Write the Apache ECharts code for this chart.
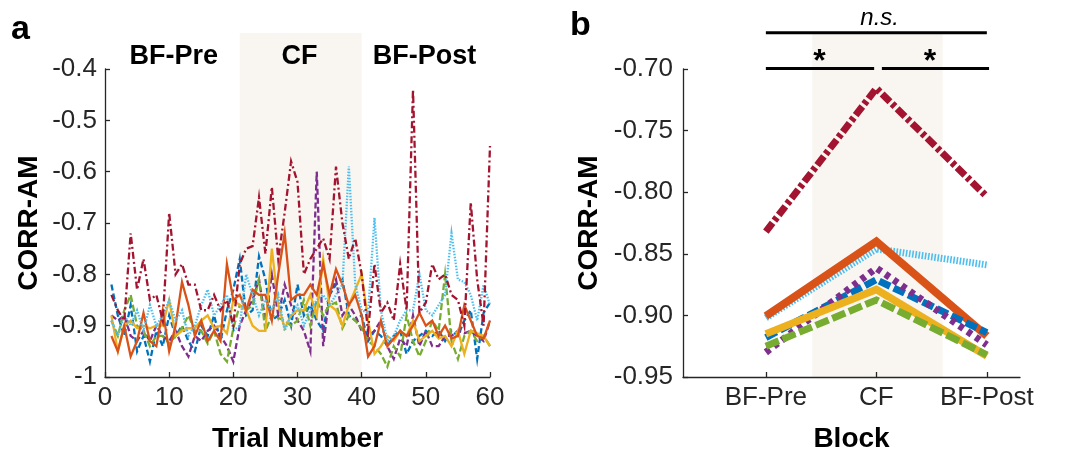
<!DOCTYPE html>
<html><head><meta charset="utf-8">
<script src="https://cdn.jsdelivr.net/npm/echarts@6/dist/echarts.min.js"></script>
<style>html,body{margin:0;padding:0;background:#fff}#c{width:1072px;height:452px}</style>
</head><body><div id="c"></div>
<script>
// ---------- Panel a: per-trial CORR-AM (trials 1..60) ----------
const trials = Array.from({length: 60}, (_, i) => i + 1);
const aBlue = [-0.82,-0.88,-0.92,-0.86,-0.95,-0.92,-0.97,-0.91,-0.94,-0.88,-0.92,-0.90,-0.93,-0.95,-0.90,-0.92,-0.88,-0.93,-0.87,-0.83,
  -0.77,-0.88,-0.87,-0.765,-0.81,-0.89,-0.88,-0.85,-0.90,-0.82,-0.88,-0.86,-0.89,-0.91,-0.84,-0.82,-0.81,-0.88,-0.89,-0.88,
  -0.93,-0.91,-0.92,-0.94,-0.92,-0.91,-0.955,-0.93,-0.92,-0.91,-0.92,-0.91,-0.93,-0.91,-0.92,-0.89,-0.87,-0.965,-0.875,-0.855];
const aOrange = [-0.92,-0.95,-0.90,-0.96,-0.93,-0.875,-0.93,-0.94,-0.87,-0.95,-0.90,-0.815,-0.86,-0.92,-0.89,-0.93,-0.91,-0.93,-0.78,-0.85,
  -0.84,-0.87,-0.83,-0.84,-0.84,-0.89,-0.80,-0.72,-0.85,-0.84,-0.84,-0.82,-0.84,-0.78,-0.84,-0.79,-0.82,-0.86,-0.84,-0.88,
  -0.96,-0.94,-0.89,-0.94,-0.925,-0.91,-0.92,-0.90,-0.875,-0.90,-0.89,-0.92,-0.90,-0.925,-0.92,-0.86,-0.89,-0.92,-0.925,-0.89];
const aYellow = [-0.88,-0.95,-0.90,-0.89,-0.905,-0.90,-0.905,-0.90,-0.90,-0.85,-0.92,-0.91,-0.905,-0.905,-0.89,-0.88,-0.905,-0.90,-0.915,-0.85,
  -0.86,-0.87,-0.90,-0.91,-0.91,-0.75,-0.86,-0.905,-0.88,-0.87,-0.87,-0.84,-0.88,-0.77,-0.86,-0.87,-0.90,-0.86,-0.83,-0.80,
  -0.89,-0.955,-0.94,-0.92,-0.93,-0.91,-0.92,-0.89,-0.93,-0.92,-0.91,-0.925,-0.92,-0.94,-0.91,-0.955,-0.91,-0.915,-0.92,-0.94];
const aPurple = [-0.88,-0.89,-0.88,-0.92,-0.93,-0.91,-0.93,-0.90,-0.92,-0.93,-0.91,-0.94,-0.96,-0.92,-0.93,-0.91,-0.90,-0.92,-0.94,-0.97,
  -0.90,-0.87,-0.85,-0.81,-0.89,-0.80,-0.88,-0.82,-0.86,-0.89,-0.91,-0.95,-0.60,-0.94,-0.84,-0.81,-0.88,-0.86,-0.88,-0.91,
  -0.92,-0.91,-0.89,-0.94,-0.965,-0.925,-0.94,-0.88,-0.94,-0.91,-0.94,-0.94,-0.92,-0.92,-0.91,-0.915,-0.91,-0.92,-0.93,-0.89];
const aGreen = [-0.89,-0.92,-0.87,-0.84,-0.90,-0.91,-0.94,-0.92,-0.92,-0.935,-0.92,-0.905,-0.88,-0.91,-0.91,-0.935,-0.91,-0.955,-0.97,-0.905,
  -0.86,-0.87,-0.86,-0.81,-0.91,-0.88,-0.885,-0.89,-0.90,-0.89,-0.85,-0.90,-0.85,-0.88,-0.86,-0.855,-0.905,-0.88,-0.89,-0.905,
  -0.93,-0.94,-0.955,-0.98,-0.94,-0.96,-0.88,-0.93,-0.96,-0.93,-0.89,-0.91,-0.80,-0.93,-0.965,-0.92,-0.91,-0.93,-0.92,-0.94];
const aLightBlue = [-0.89,-0.92,-0.88,-0.90,-0.87,-0.91,-0.86,-0.90,-0.88,-0.85,-0.89,-0.87,-0.92,-0.90,-0.86,-0.83,-0.88,-0.86,-0.84,-0.91,
  -0.90,-0.80,-0.84,-0.88,-0.85,-0.87,-0.84,-0.91,-0.88,-0.86,-0.90,-0.87,-0.85,-0.84,-0.86,-0.84,-0.82,-0.59,-0.82,-0.87,
  -0.875,-0.69,-0.87,-0.93,-0.92,-0.89,-0.87,-0.87,-0.80,-0.87,-0.88,-0.86,-0.84,-0.72,-0.81,-0.815,-0.84,-0.89,-0.82,-0.86];
const aDarkRed = [-0.84,-0.87,-0.89,-0.72,-0.83,-0.77,-0.85,-0.84,-0.89,-0.68,-0.80,-0.78,-0.82,-0.82,-0.87,-0.87,-0.84,-0.87,-0.85,-0.90,
  -0.78,-0.75,-0.745,-0.65,-0.76,-0.63,-0.77,-0.68,-0.58,-0.62,-0.80,-0.77,-0.75,-0.73,-0.77,-0.59,-0.70,-0.77,-0.73,-0.80,
  -0.91,-0.78,-0.875,-0.855,-0.89,-0.78,-0.87,-0.44,-0.875,-0.855,-0.78,-0.81,-0.80,-0.84,-0.85,-0.90,-0.66,-0.81,-0.90,-0.55];
const aYTicks = [-1, -0.9, -0.8, -0.7, -0.6, -0.5, -0.4];
const aXTicks = [0, 10, 20, 30, 40, 50, 60];

// ---------- Panel b: block means ----------
const blocks = ['BF-Pre', 'CF', 'BF-Post'];
const bBlue = [-0.918, -0.871, -0.914];
const bOrange = [-0.9005, -0.840, -0.9167];
const bYellow = [-0.915, -0.879, -0.933];
const bPurple = [-0.930, -0.8615, -0.924];
const bGreen = [-0.925, -0.8875, -0.932];
const bLightBlue = [-0.902, -0.846, -0.859];
const bDarkRed = [-0.832, -0.7157, -0.8036];
const bYTicks = [-0.95, -0.90, -0.85, -0.80, -0.75, -0.70];

const C = {blue:'#0072BD', orange:'#D95319', yellow:'#EDB120', purple:'#7E2F8E', green:'#77AC30', lightBlue:'#4DBEEE', darkRed:'#A2142F'};
const FONT = '"Liberation Sans", Arial, Helvetica, sans-serif';
const AX = '#262626';

const chart = echarts.init(document.getElementById('c'), null, {renderer: 'canvas'});

function pairs(xs, ys){ return ys.map((y, i) => [xs[i], y]); }

const aStyles = [
  ['blue', aBlue, [6,3]],
  ['purple', aPurple, [6,3]],
  ['green', aGreen, [7,3]],
  ['yellow', aYellow, 'solid'],
  ['orange', aOrange, 'solid'],
  ['lightBlue', aLightBlue, [1.5,1.5]],
  ['darkRed', aDarkRed, [7,3,2,3]]
];
const bStyles = [
  ['lightBlue', bLightBlue, [1.6,1.6], 7],
  ['orange', bOrange, 'solid', 8],
  ['blue', bBlue, [12,4], 7],
  ['purple', bPurple, [5,5], 7],
  ['yellow', bYellow, 'solid', 7.5],
  ['green', bGreen, [14,4], 7],
  ['darkRed', bDarkRed, [11,3,4,3], 7]
];
const blockX = [1, 2, 3];

const series = [];
aStyles.forEach(([c, d, t]) => series.push({
  type: 'line', xAxisIndex: 0, yAxisIndex: 0, data: pairs(trials, d), showSymbol: false, z: 3,
  lineStyle: {color: C[c], width: 2.3, type: t, cap: 'butt', join: 'miter'}, animation: false, clip: false
}));
bStyles.forEach(([c, d, t, w]) => series.push({
  type: 'line', xAxisIndex: 1, yAxisIndex: 1, data: pairs(blockX, d), showSymbol: false, z: 3,
  lineStyle: {color: C[c], width: w, type: t, cap: 'butt', join: 'miter'}, animation: false, clip: false
}));

const TICKF = 26, NAMEF = 28;
const axisCommon = {
  axisLine: {show: true, lineStyle: {color: AX, width: 1.3}},
  axisTick: {show: true, inside: true, length: 5, lineStyle: {color: AX, width: 1.3}},
  splitLine: {show: false},
  nameTextStyle: {fontFamily: FONT, fontSize: NAMEF, fontWeight: 'bold', color: '#000'}
};

chart.setOption({
  animation: false,
  backgroundColor: '#fff',
  grid: [
    {left: 105, top: 69, width: 385, height: 308, outerBoundsMode: 'none', containLabel: false},
    {left: 683, top: 69, width: 337, height: 308, outerBoundsMode: 'none', containLabel: false}
  ],
  xAxis: [
    Object.assign({}, axisCommon, {
      type: 'value', gridIndex: 0, min: 0, max: 60, interval: 10,
      name: 'Trial Number', nameLocation: 'middle', nameGap: 48,
      axisLabel: {fontFamily: FONT, fontSize: TICKF, color: AX, margin: 8,
        customValues: aXTicks, formatter: v => String(v)},
      axisTick: Object.assign({}, axisCommon.axisTick, {customValues: aXTicks})
    }),
    Object.assign({}, axisCommon, {
      type: 'value', gridIndex: 1, min: 0.25, max: 3.3,
      name: 'Block', nameLocation: 'middle', nameGap: 48,
      axisLabel: {fontFamily: FONT, fontSize: TICKF, color: AX, margin: 8,
        customValues: blockX, formatter: v => blocks[Math.round(v) - 1] || ''},
      axisTick: Object.assign({}, axisCommon.axisTick, {customValues: blockX})
    })
  ],
  yAxis: [
    Object.assign({}, axisCommon, {
      type: 'value', gridIndex: 0, min: -1, max: -0.4, interval: 0.1,
      name: 'CORR-AM', nameLocation: 'middle', nameGap: 62,
      axisLabel: {fontFamily: FONT, fontSize: TICKF, color: AX, margin: 8,
        customValues: aYTicks, formatter: v => String(+v.toFixed(1))},
      axisTick: Object.assign({}, axisCommon.axisTick, {customValues: aYTicks})
    }),
    Object.assign({}, axisCommon, {
      type: 'value', gridIndex: 1, min: -0.95, max: -0.70, interval: 0.05,
      name: 'CORR-AM', nameLocation: 'middle', nameGap: 80,
      axisLabel: {fontFamily: FONT, fontSize: TICKF, color: AX, margin: 10,
        customValues: bYTicks, formatter: v => v.toFixed(2)},
      axisTick: Object.assign({}, axisCommon.axisTick, {customValues: bYTicks})
    })
  ],
  series: series
});

// ---------- Annotations positioned through the axes ----------
function P(g, x, y){ return chart.convertToPixel({gridIndex: g}, [x, y]); }
const SHADE = '#F9F6F1';
const gfx = [];
{
  const p0 = P(0, 21, -1), p1 = P(0, 40, -0.33);
  gfx.push({type: 'rect', z: 0, silent: true, shape: {x: p0[0], y: p1[1], width: p1[0] - p0[0], height: p0[1] - p1[1]}, style: {fill: SHADE}});
}
{
  const p0 = P(1, 1.42, -0.95), p1 = P(1, 2.6, -0.6705);
  gfx.push({type: 'rect', z: 0, silent: true, shape: {x: p0[0], y: p1[1], width: p1[0] - p0[0], height: p0[1] - p1[1]}, style: {fill: SHADE}});
}
const aBlockLabels = [['BF-Pre', 10.7], ['CF', 30.3], ['BF-Post', 49.8]];
aBlockLabels.forEach(([t, x]) => {
  const p = P(0, x, -0.375);
  gfx.push({type: 'text', z: 10, x: p[0], y: p[1], style: {text: t, font: 'bold 27px ' + FONT, fill: '#000', align: 'center', verticalAlign: 'middle'}});
});
function hline(g, x0, x1, y){
  const a = P(g, x0, y), b = P(g, x1, y);
  gfx.push({type: 'line', z: 10, shape: {x1: a[0], y1: a[1], x2: b[0], y2: b[1]}, style: {stroke: '#000', lineWidth: 3}});
}
hline(1, 1.0, 1.98, -0.6995);
hline(1, 2.05, 3.02, -0.6995);
hline(1, 1.0, 3.0, -0.6705);
[[1.5, '*'], [2.5, '*']].forEach(([x, t]) => {
  const p = P(1, x - 0.015, -0.6943);
  gfx.push({type: 'text', z: 10, x: p[0], y: p[1], style: {text: t, font: 'bold 32px ' + FONT, fill: '#000', align: 'center', verticalAlign: 'middle'}});
});
{
  const p = P(1, 2.03, -0.6585);
  gfx.push({type: 'text', z: 10, x: p[0], y: p[1], style: {text: 'n.s.', font: 'italic 24px ' + FONT, fill: '#000', align: 'center', verticalAlign: 'middle'}});
}
gfx.push({type: 'text', z: 10, x: 11, y: 30, style: {text: 'a', font: 'bold 34px ' + FONT, fill: '#000', verticalAlign: 'middle'}});
gfx.push({type: 'text', z: 10, x: 570, y: 26, style: {text: 'b', font: 'bold 34px ' + FONT, fill: '#000', verticalAlign: 'middle'}});

chart.setOption({graphic: {elements: gfx}});
</script>
</body></html>
